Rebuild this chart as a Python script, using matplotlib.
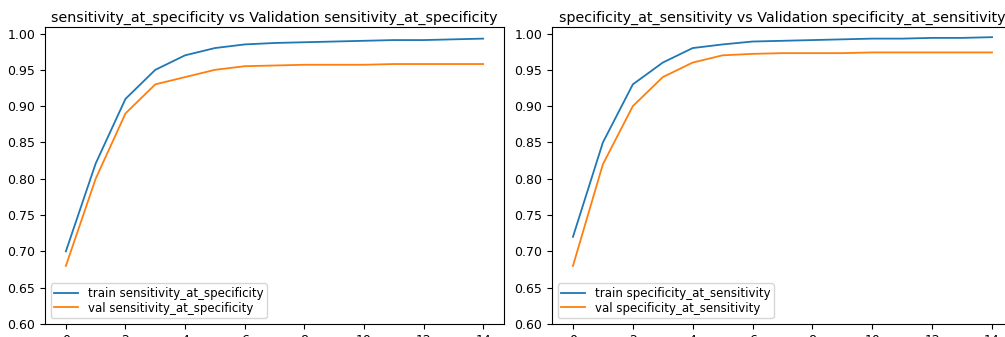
import numpy as np
import matplotlib
matplotlib.use("Agg")
import matplotlib.pyplot as plt

epochs = list(range(15))

# sensitivity_at_specificity
train_sens = [0.70, 0.821, 0.91, 0.95, 0.97, 0.98, 0.985, 0.987, 0.988, 0.989,
              0.990, 0.991, 0.991, 0.992, 0.993]
val_sens = [0.68, 0.80, 0.89, 0.93, 0.94, 0.95, 0.955, 0.956, 0.957, 0.957,
            0.957, 0.958, 0.958, 0.958, 0.958]

# specificity_at_sensitivity
train_spec = [0.72, 0.85, 0.93, 0.96, 0.98, 0.985, 0.989, 0.990, 0.991, 0.992,
              0.993, 0.993, 0.994, 0.994, 0.995]
val_spec = [0.68, 0.82, 0.90, 0.94, 0.96, 0.97, 0.972, 0.973, 0.973, 0.973,
            0.974, 0.974, 0.974, 0.974, 0.974]

panels = [
    ("sensitivity_at_specificity", train_sens, val_sens),
    ("specificity_at_sensitivity", train_spec, val_spec),
]

W, H = 1005, 337
fig = plt.figure(figsize=(W / 100, H / 100), dpi=100)

# axes boxes in pixels (left, right, top, bottom); the figure is a crop so
# the right panel runs slightly past the edge
boxes = [(45, 504, 27, 324), (552, 1013, 27, 324)]

for (name, train, val), (l, r, t, b) in zip(panels, boxes):
    ax = fig.add_axes([l / W, 1 - b / H, (r - l) / W, (b - t) / H])
    ax.plot(epochs, train, label="train " + name, lw=1.3)
    ax.plot(epochs, val, label="val " + name, lw=1.3)
    ax.set_ylim(0.6, 1.009)
    ax.set_xticks(range(0, 15, 2))
    ax.tick_params(labelsize=9)
    ax.set_title(name + " vs Validation " + name, fontsize=10.3, pad=4)
    ax.legend(loc="lower left", fontsize=8.5, labelspacing=0.15,
              borderpad=0.3)

fig.savefig("out.png", dpi=100)
